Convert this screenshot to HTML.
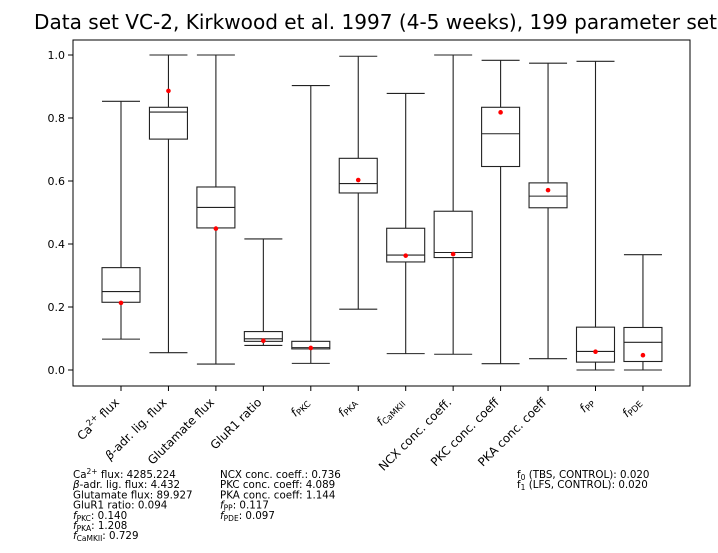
<!DOCTYPE html>
<html><head><meta charset="utf-8"><style>
body{margin:0;background:#fff;}
svg{display:block;font-family:"DejaVu Sans","Liberation Sans",sans-serif;}
</style></head><body>
<svg id="chart" width="718" height="553" viewBox="0 0 718 553" xmlns="http://www.w3.org/2000/svg">
<text x="34" y="29" font-size="20" textLength="683" lengthAdjust="spacingAndGlyphs">Data set VC-2, Kirkwood et al. 1997 (4-5 weeks), 199 parameter set</text>
<rect x="73" y="40" width="617" height="346" fill="none" stroke="#000" stroke-width="1"/>
<g id="marks"></g>
<g id="xlabels" font-size="11.8"></g>
<g font-size="10.3">
<text x="73" y="478">Ca<tspan font-size="7.5" dy="-4">2+</tspan><tspan dy="4"> flux: 4285.224</tspan></text>
<text x="73" y="488.2"><tspan font-style="italic">β</tspan>-adr. lig. flux: 4.432</text>
<text x="73" y="498.4">Glutamate flux: 89.927</text>
<text x="73" y="508.6">GluR1 ratio: 0.094</text>
<text x="73" y="518.8"><tspan font-style="italic">f</tspan><tspan font-size="7.5" dy="2">PKC</tspan><tspan dy="-2">: 0.140</tspan></text>
<text x="73" y="529"><tspan font-style="italic">f</tspan><tspan font-size="7.5" dy="2">PKA</tspan><tspan dy="-2">: 1.208</tspan></text>
<text x="73" y="539.2"><tspan font-style="italic">f</tspan><tspan font-size="7.5" dy="2">CaMKII</tspan><tspan dy="-2">: 0.729</tspan></text>
</g>
<g font-size="10.3">
<text x="220" y="478">NCX conc. coeff.: 0.736</text>
<text x="220" y="488.2">PKC conc. coeff: 4.089</text>
<text x="220" y="498.4">PKA conc. coeff: 1.144</text>
<text x="220" y="508.6"><tspan font-style="italic">f</tspan><tspan font-size="7.5" dy="2">PP</tspan><tspan dy="-2">: 0.117</tspan></text>
<text x="220" y="518.8"><tspan font-style="italic">f</tspan><tspan font-size="7.5" dy="2">PDE</tspan><tspan dy="-2">: 0.097</tspan></text>
</g>
<g font-size="10.3">
<text x="517" y="478">f<tspan font-size="7.5" dy="2">0</tspan><tspan dy="-2"> (TBS, CONTROL): 0.020</tspan></text>
<text x="517" y="488.2">f<tspan font-size="7.5" dy="2">1</tspan><tspan dy="-2"> (LFS, CONTROL): 0.020</tspan></text>
</g>
</svg>
<script>
const categories = ["Ca2+ flux","β-adr. lig. flux","Glutamate flux","GluR1 ratio","fPKC","fPKA","fCaMKII","NCX conc. coeff.","PKC conc. coeff","PKA conc. coeff","fPP","fPDE"];
const whiskerHigh = [0.853,1.0,1.0,0.416,0.903,0.996,0.878,1.0,0.983,0.974,0.980,0.366];
const q3 = [0.325,0.834,0.581,0.122,0.091,0.672,0.450,0.504,0.834,0.594,0.136,0.135];
const medians = [0.249,0.819,0.516,0.099,0.071,0.592,0.365,0.373,0.750,0.552,0.059,0.088];
const q1 = [0.215,0.733,0.451,0.091,0.067,0.562,0.343,0.357,0.646,0.515,0.025,0.027];
const whiskerLow = [0.098,0.055,0.019,0.078,0.021,0.193,0.052,0.050,0.020,0.036,0.0,0.0];
const means = [0.213,0.886,0.449,0.093,0.070,0.603,0.363,0.368,0.818,0.571,0.058,0.047];
const yTicks = [0.0,0.2,0.4,0.6,0.8,1.0];
const yTickLabels = ["0.0","0.2","0.4","0.6","0.8","1.0"];

const NS="http://www.w3.org/2000/svg";
const y = v => 370 - v*315;
const x = i => 121 + i*47.45;
const g=document.getElementById('marks');
function mk(tag,attrs,parent){const e=document.createElementNS(NS,tag);for(const k in attrs)e.setAttribute(k,attrs[k]);(parent||g).appendChild(e);return e;}

yTicks.forEach((t,i)=>{
  const tk=mk('line',{x1:68,x2:73,y1:y(t),y2:y(t),stroke:'#000'});
  
  
  const tl=mk('text',{x:65,y:y(t)+4,'font-size':11,'text-anchor':'end'});
  tl.textContent=yTickLabels[i];
  
  
});

const hw=19, cap=19;
categories.forEach((c,i)=>{
  const cx=x(i);
  const bg=mk('g',{stroke:'#222','stroke-width':1.1,fill:'none'});
  
  
  mk('line',{x1:cx,x2:cx,y1:y(whiskerHigh[i]),y2:y(q3[i])},bg);
  mk('line',{x1:cx,x2:cx,y1:y(q1[i]),y2:y(whiskerLow[i])},bg);
  mk('line',{x1:cx-cap,x2:cx+cap,y1:y(whiskerHigh[i]),y2:y(whiskerHigh[i])},bg);
  mk('line',{x1:cx-cap,x2:cx+cap,y1:y(whiskerLow[i]),y2:y(whiskerLow[i])},bg);
  mk('rect',{x:cx-hw,y:y(q3[i]),width:2*hw,height:Math.max(0.5,y(q1[i])-y(q3[i]))},bg);
  mk('line',{x1:cx-hw,x2:cx+hw,y1:y(medians[i]),y2:y(medians[i])},bg);
  const m=mk('circle',{cx:cx,cy:y(means[i]),r:2.3,fill:'#f00'});
  
  
  const tk=mk('line',{x1:cx,x2:cx,y1:386,y2:391,stroke:'#000'});
  
  
});

const labelsHTML=[
 'Ca<tspan font-size="8.5" dy="-5">2+</tspan><tspan dy="5"> flux</tspan>',
 '<tspan font-style="italic">β</tspan>-adr. lig. flux',
 'Glutamate flux','GluR1 ratio',
 '<tspan font-style="italic">f</tspan><tspan font-size="8.5" dy="2">PKC</tspan>',
 '<tspan font-style="italic">f</tspan><tspan font-size="8.5" dy="2">PKA</tspan>',
 '<tspan font-style="italic">f</tspan><tspan font-size="8.5" dy="2">CaMKII</tspan>',
 'NCX conc. coeff.','PKC conc. coeff','PKA conc. coeff',
 '<tspan font-style="italic">f</tspan><tspan font-size="8.5" dy="2">PP</tspan>',
 '<tspan font-style="italic">f</tspan><tspan font-size="8.5" dy="2">PDE</tspan>'];
const xl=document.getElementById('xlabels');
categories.forEach((c,i)=>{
  const cx=x(i)-1, cy=403;
  const t=mk('text',{x:cx,y:cy,'text-anchor':'end',transform:`rotate(-45 ${cx} ${cy})`},xl);
  t.innerHTML=labelsHTML[i];
  
  
});
</script>
</body></html>
